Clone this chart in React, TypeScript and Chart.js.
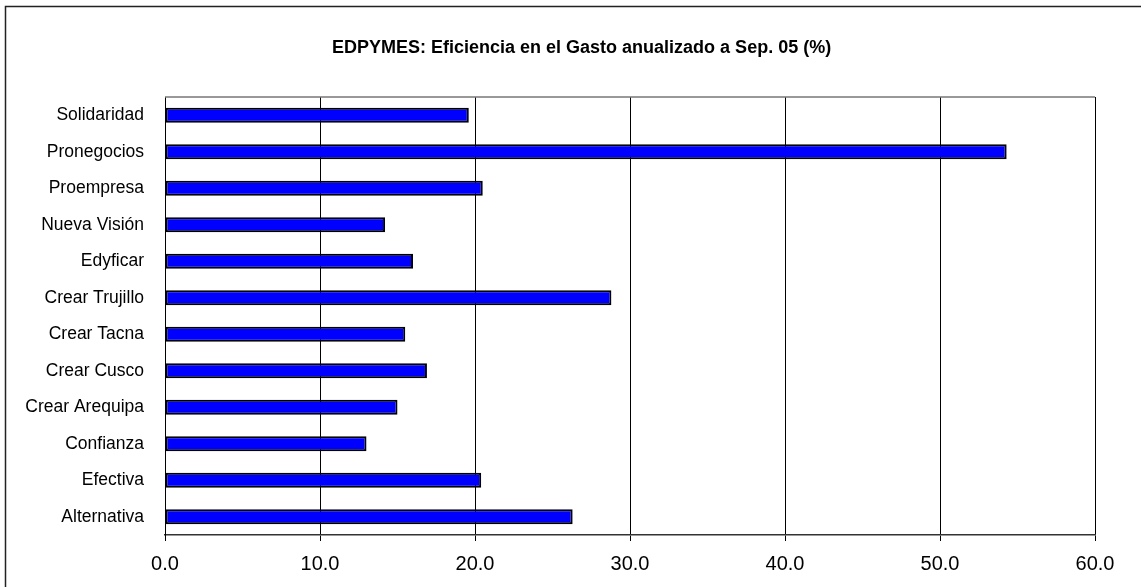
import React, { useEffect, useRef } from "react";
import { Chart, registerables } from "chart.js";

Chart.register(...registerables);

const categories: string[] = [
  "Solidaridad",
  "Pronegocios",
  "Proempresa",
  "Nueva Visión",
  "Edyficar",
  "Crear Trujillo",
  "Crear Tacna",
  "Crear Cusco",
  "Crear Arequipa",
  "Confianza",
  "Efectiva",
  "Alternativa",
];

const values: number[] = [19.6, 54.3, 20.5, 14.2, 16.0, 28.8, 15.5, 16.9, 15.0, 13.0, 20.4, 26.3];

const titleText = "EDPYMES: Eficiencia en el Gasto anualizado a Sep. 05 (%)";
const xMin = 0;
const xMax = 60;
const xStep = 10;

const FONT = "'Liberation Sans', Arial, sans-serif";

export default function App() {
  const ref = useRef<HTMLCanvasElement | null>(null);

  useEffect(() => {
    if (!ref.current) return;
    const framePlugin = {
      id: "frame",
      beforeDraw(chart: any) {
        const ctx = chart.ctx;
        ctx.save();
        ctx.fillStyle = "#ffffff";
        ctx.fillRect(0, 0, chart.width, chart.height);
        ctx.strokeStyle = "#222222";
        ctx.lineWidth = 1.5;
        ctx.strokeRect(5.5, 6.5, chart.width + 20, chart.height + 20);
        ctx.fillStyle = "#000000";
        ctx.font = `bold 18px ${FONT}`;
        ctx.textAlign = "left";
        ctx.textBaseline = "middle";
        ctx.fillText(titleText, 332, 48);
        ctx.restore();
      },
      afterDatasetsDraw(chart: any) {
        const ctx = chart.ctx;
        const a = chart.chartArea;
        ctx.save();
        ctx.strokeStyle = "#777777";
        ctx.lineWidth = 1.5;
        ctx.beginPath();
        ctx.moveTo(a.left, a.top);
        ctx.lineTo(a.right, a.top);
        ctx.stroke();
        ctx.restore();
      },
    };

    const chart = new Chart(ref.current, {
      type: "bar",
      data: {
        labels: categories,
        datasets: [
          {
            data: values,
            backgroundColor: "#0000FF",
            borderColor: "#000000",
            borderWidth: 2,
            borderSkipped: false,
            barPercentage: 0.41,
            categoryPercentage: 1,
          },
        ],
      },
      options: {
        indexAxis: "y",
        responsive: false,
        animation: false,
        devicePixelRatio: 1,
        layout: { padding: { top: 97, right: 46, left: 0, bottom: 0 } },
        plugins: {
          legend: { display: false },
          tooltip: { enabled: false },
          title: { display: false },
        },
        scales: {
          x: {
            min: xMin,
            max: xMax,
            afterFit(scale: any) {
              scale.height = 52;
            },
            ticks: {
              stepSize: xStep,
              color: "#000",
              font: { family: FONT, size: 20 },
              padding: 11,
              maxRotation: 0,
              callback: (v: any) => Number(v).toFixed(1),
            },
            grid: {
              color: "#000",
              lineWidth: 1,
              tickLength: 6,
              drawTicks: true,
            },
            border: { display: true, color: "#333", width: 1.5 },
          },
          y: {
            afterFit(scale: any) {
              scale.width = 165;
            },
            ticks: {
              color: "#000",
              font: { family: FONT, size: 17.5 },
              padding: 13,
            },
            grid: { display: false },
            border: { display: true, color: "#000", width: 1 },
          },
        },
      },
      plugins: [framePlugin],
    } as any);
    return () => chart.destroy();
  }, []);

  return (
    <div style={{ position: "fixed", left: 0, top: 0, width: 1141, height: 587 }}>
      <canvas ref={ref} width={1141} height={587} style={{ width: 1141, height: 587 }} />
    </div>
  );
}
